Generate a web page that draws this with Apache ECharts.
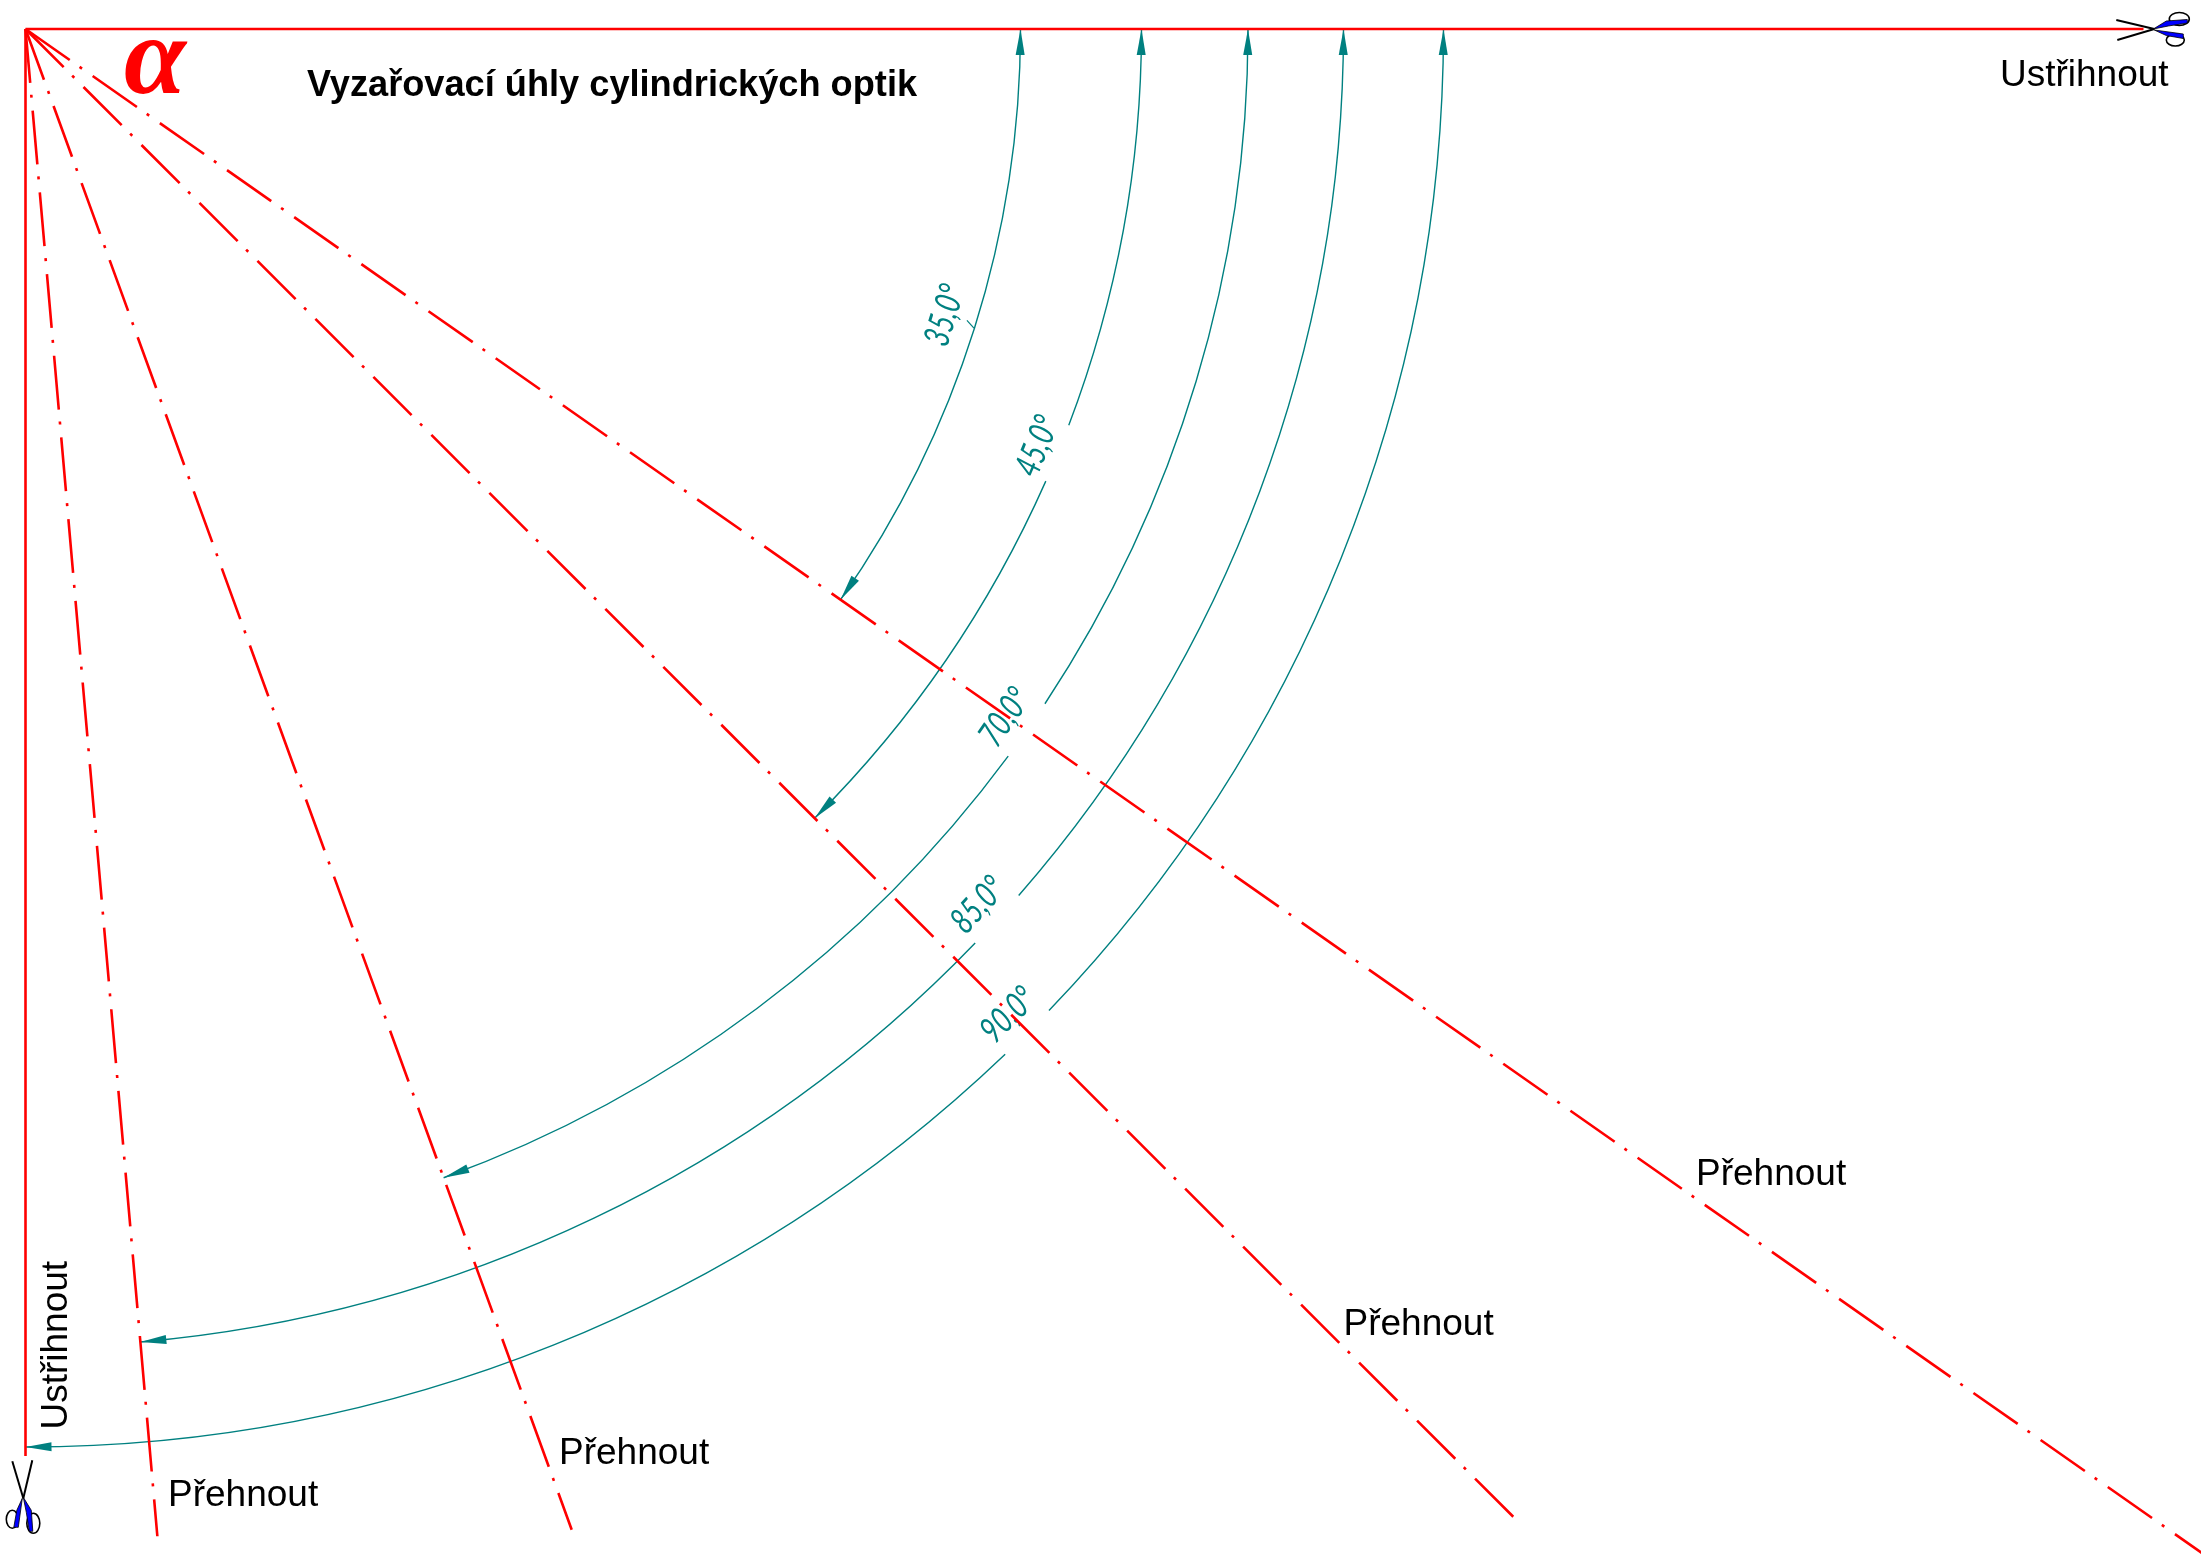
<!DOCTYPE html>
<html>
<head>
<meta charset="utf-8">
<style>html,body{margin:0;padding:0;background:#fff}#c{width:2201px;height:1558px}</style>
<script src="https://cdn.jsdelivr.net/npm/echarts@6/dist/echarts.min.js"></script>
</head>
<body>
<div id="c"></div>
<script>
// ---- data ----
const rayAngles = [35, 45, 70, 85];
const rayLengths = [2700, 2108, 1597, 1513];
const cutAngles = [0, 90];
const cutLengths = [2118, 1427];
const dimAngles = [35, 45, 70, 85, 90];
const dimRadii = [995, 1116, 1222.5, 1318, 1418];
const dimGapFrom = [null, 20.8, 33.5, 41.1, 43.8];
const dimGapTo = [null, 23.9, 36.5, 43.9, 46.3];
const dimLabels = ['35,0°', '45,0°', '70,0°', '85,0°', '90,0°'];
const dimLabelAngles = [17.3, 22.4, 35.1, 42.6, 45.1];
const dimLabelRadii = [963, 1094.5, 1197, 1294, 1392];
const stubRadii = [985.5, 994.5];
const stubAngles = [17.2, 17.5];
const titleText = 'Vyzařovací úhly cylindrických optik';
const alphaText = 'α';
const foldText = 'Přehnout';
const cutText = 'Ustřihnout';

// ---- style ----
const RED = '#ff0000', TEAL = '#008080';
const CX = 25.5, CY = 29, R = 2800;
const rad = d => d * Math.PI / 180;

const arcData = dimRadii.map((r, i) => [r, dimAngles[i], dimGapFrom[i], dimGapTo[i], dimLabelRadii[i], dimLabelAngles[i]]);

function renderDim(params, api) {
  const i = params.dataIndex;
  const r = api.value(0), a = api.value(1);
  const c = api.coord([0, 0]);
  const children = [];
  const head = 26 / r * 180 / Math.PI, hw = 4.5;
  const arc = (from, to) => children.push({
    type: 'arc',
    shape: { cx: c[0], cy: c[1], r: r, startAngle: rad(from), endAngle: rad(to), clockwise: true },
    style: { stroke: TEAL, fill: 'none', lineWidth: 1.4 }
  });
  if (dimGapFrom[i] == null) arc(0, a);
  else { arc(0, dimGapFrom[i]); arc(dimGapTo[i], a); }
  const arrow = (tip, base) => children.push({
    type: 'polygon',
    shape: { points: [api.coord([r, tip]), api.coord([r - hw, base]), api.coord([r + hw, base])] },
    style: { fill: TEAL, stroke: 'none' }
  });
  arrow(0, head);
  arrow(a, a - head);
  const p = api.coord([api.value(4), api.value(5)]);
  children.push({
    type: 'text', x: p[0], y: p[1],
    rotation: rad(90 - api.value(5)),
    scaleX: 0.72,
    style: { text: dimLabels[i], font: 'italic 400 36px Lato', fill: TEAL, align: 'center', verticalAlign: 'middle' }
  });
  if (i === 0) {
    children.push({
      type: 'line',
      shape: (() => { const s = api.coord([stubRadii[0], stubAngles[0]]), e = api.coord([stubRadii[1], stubAngles[1]]); return { x1: s[0], y1: s[1], x2: e[0], y2: e[1] }; })(),
      style: { stroke: TEAL, lineWidth: 1.2 }
    });
  }
  return { type: 'group', children };
}

const lineSeries = (angle, len, dash) => ({
  type: 'line', coordinateSystem: 'polar', showSymbol: false, silent: true, animation: false, clip: false,
  data: [[0, angle], [len, angle]],
  lineStyle: { color: RED, width: 2.6, type: dash, cap: 'butt' }
});

function scissors(x, y, rotation) {
  return {
    type: 'group', x, y, rotation,
    children: [
      { type: 'ellipse', shape: { cx: 26, cy: -10, rx: 10, ry: 6.5 }, style: { fill: '#fff', stroke: '#000', lineWidth: 1.6 } },
      { type: 'ellipse', shape: { cx: 22, cy: 11, rx: 9, ry: 6 }, style: { fill: '#fff', stroke: '#000', lineWidth: 1.6 } },
      { type: 'polygon', shape: { points: [[0, 0], [13, -8], [34, -9.5], [34, -6], [15, -3]] }, style: { fill: '#0000ff', stroke: '#000', lineWidth: 0.8 } },
      { type: 'polygon', shape: { points: [[1, 1], [30, 5], [30, 9.5], [13, 6.5]] }, style: { fill: '#0000ff', stroke: '#000', lineWidth: 0.8 } },
      { type: 'polyline', shape: { points: [[-37, -9], [1, 0]] }, style: { fill: 'none', stroke: '#000', lineWidth: 2 } },
      { type: 'polyline', shape: { points: [[-36, 11], [1, 0]] }, style: { fill: 'none', stroke: '#000', lineWidth: 2 } }
    ]
  };
}

const label = (text, x, y, font, fill, extra) => Object.assign({
  type: 'text', x, y,
  style: { text, font, fill, textAlign: 'left', textVerticalAlign: 'bottom' }
}, extra || {});
const F = '37px "Liberation Sans"';

const chart = echarts.init(document.getElementById('c'), null, { renderer: 'canvas', width: 2201, height: 1558 });
chart.setOption({
  animation: false,
  backgroundColor: '#fff',
  polar: { center: [CX, CY], radius: R },
  radiusAxis: { min: 0, max: R, show: false },
  angleAxis: { min: 0, max: 360, startAngle: 0, clockwise: true, show: false },
  series: [
    ...cutAngles.map((a, i) => lineSeries(a, cutLengths[i], 'solid')),
    ...rayAngles.map((a, i) => lineSeries(a, rayLengths[i], [54, 12, 3, 13])),
    {
      type: 'custom', coordinateSystem: 'polar', silent: true, clip: false,
      encode: { radius: 0, angle: 1 },
      data: arcData,
      renderItem: renderDim
    }
  ],
  graphic: [
    label(alphaText, 124, 120, 'italic bold 112px "Liberation Serif"', RED),
    label(titleText, 307, 104, 'bold 36.2px "Liberation Sans"', '#000'),
    label(cutText, 2000, 94, F, '#000'),
    label(cutText, 75, 1429.5, F, '#000', { rotation: Math.PI / 2 * 1, originX: 0, originY: 0 }),
    label(foldText, 1696, 1193.5, F, '#000'),
    label(foldText, 1343.5, 1343.5, F, '#000'),
    label(foldText, 559, 1472, F, '#000'),
    label(foldText, 168, 1514, F, '#000'),
    scissors(2153.3, 29, 0),
    scissors(23.3, 1497.3, -Math.PI / 2)
  ]
});
</script>
</body>
</html>
